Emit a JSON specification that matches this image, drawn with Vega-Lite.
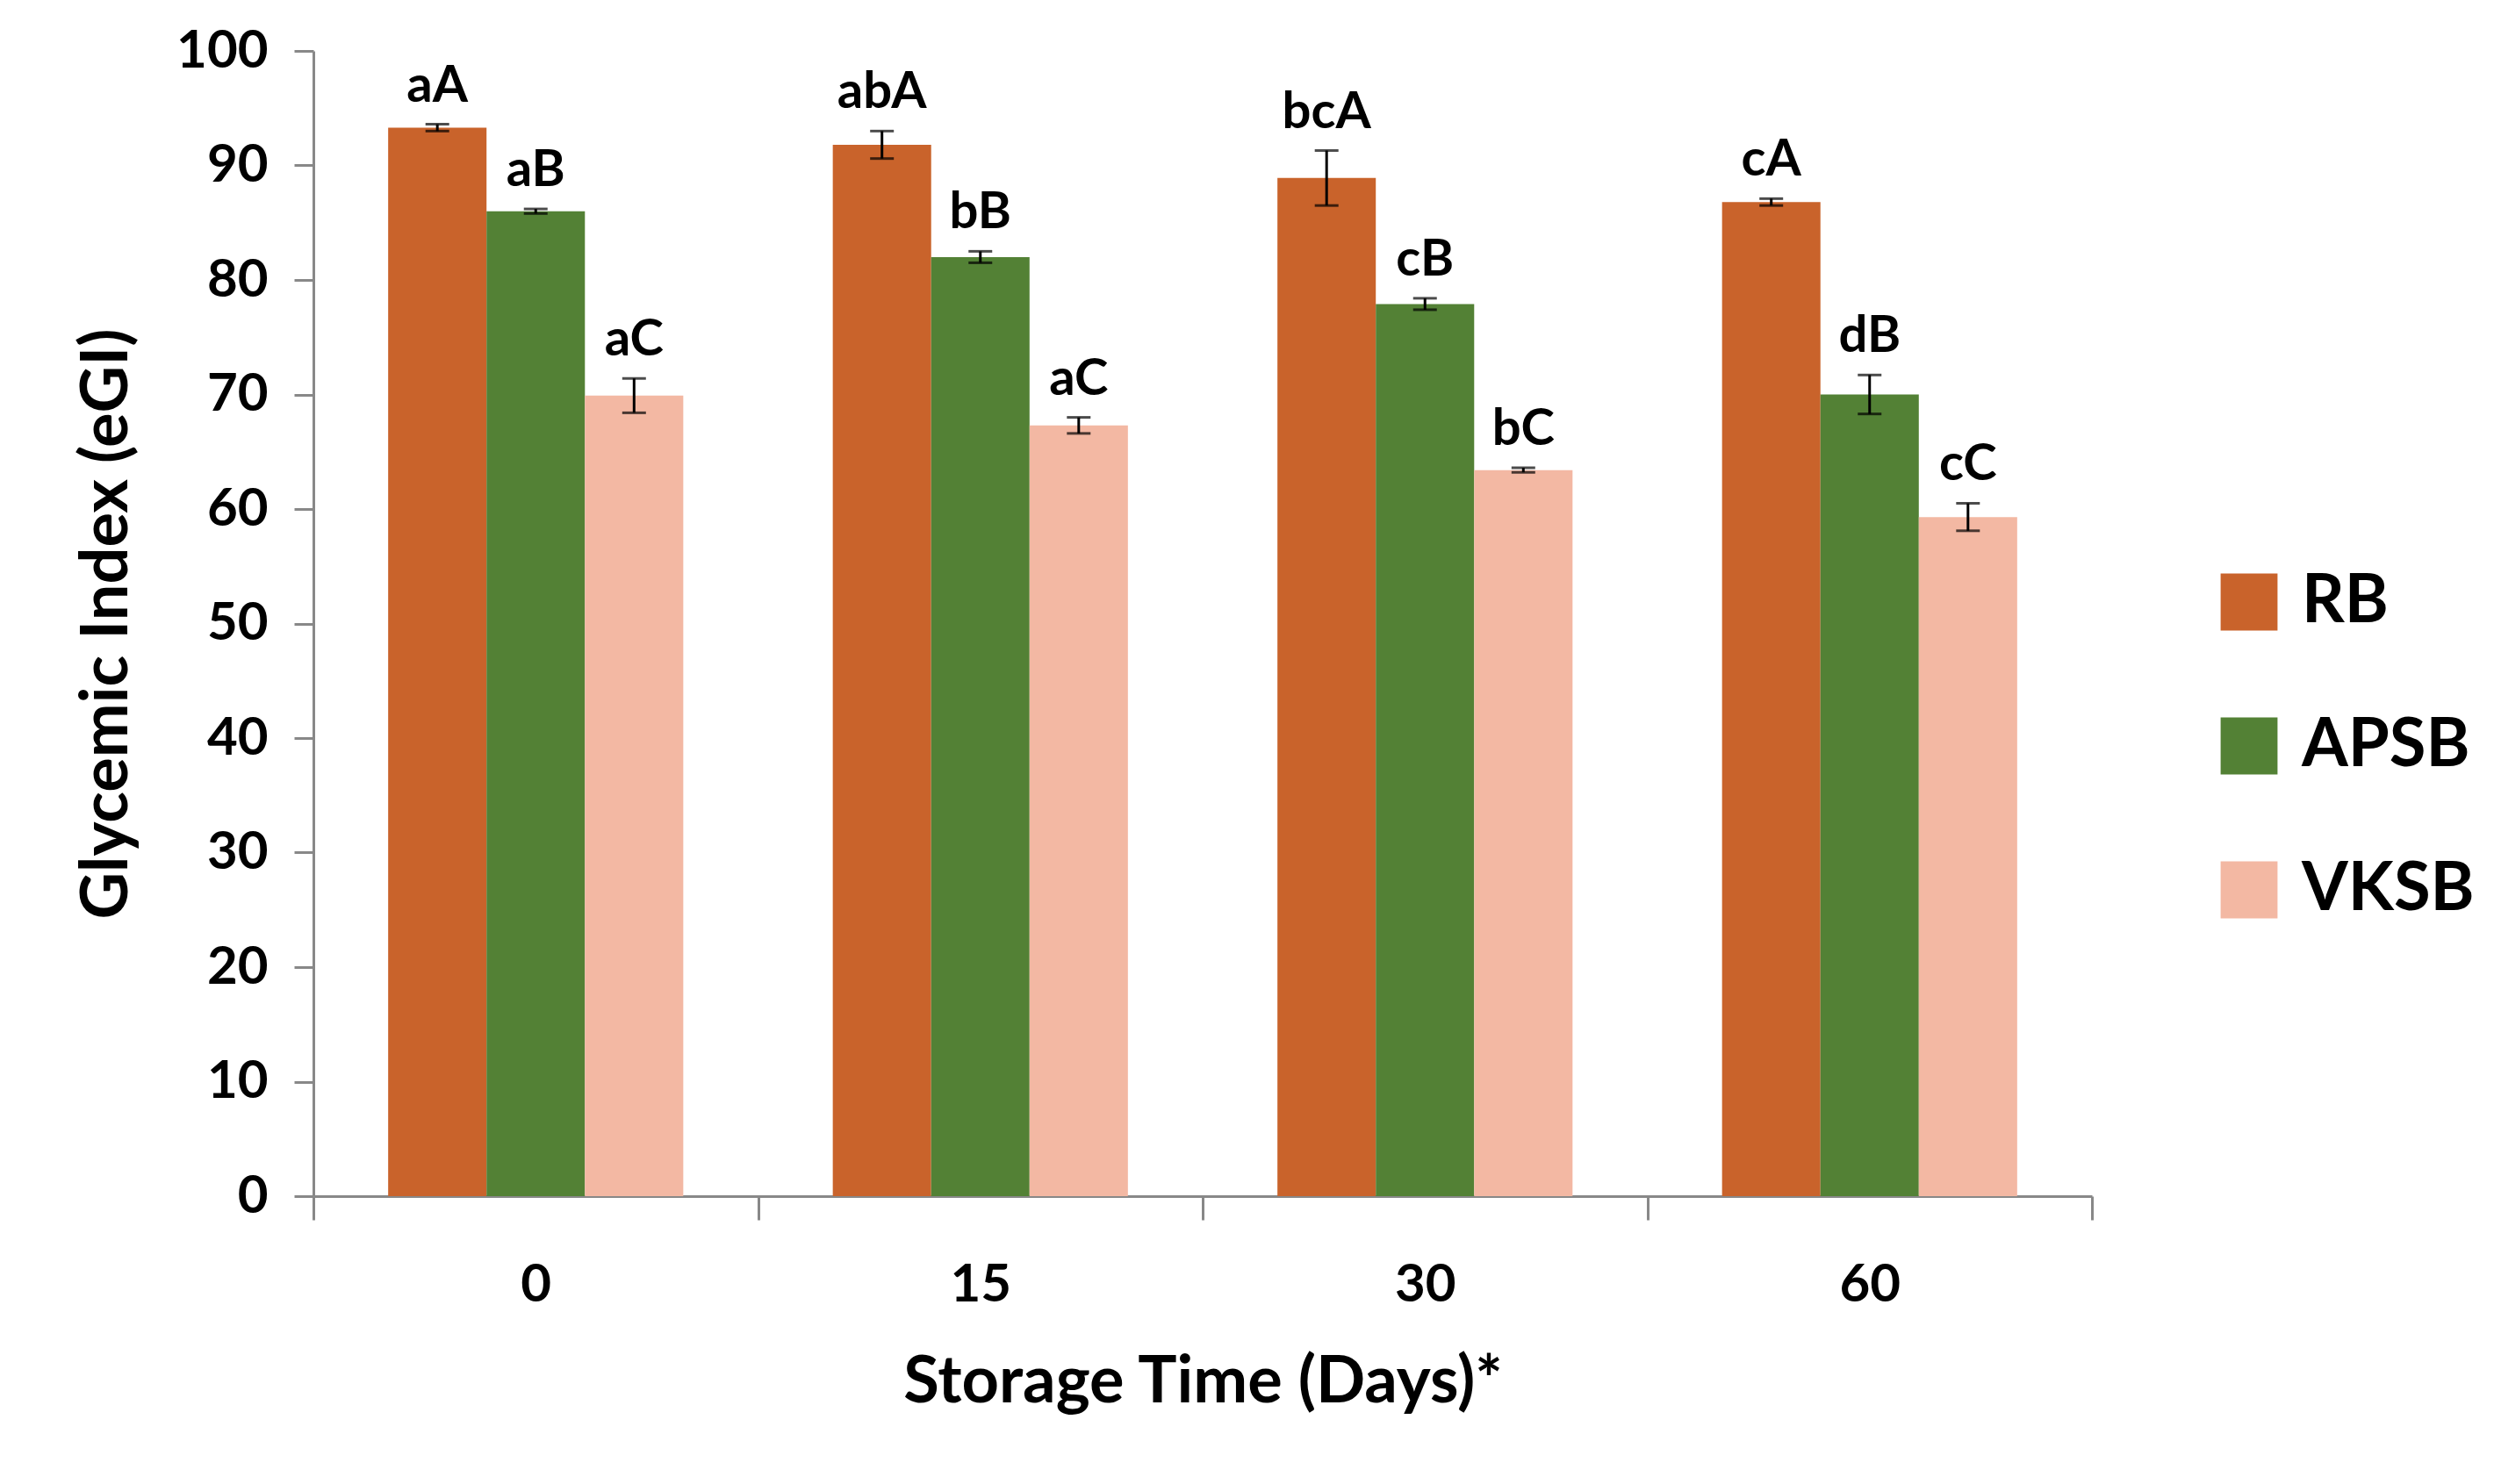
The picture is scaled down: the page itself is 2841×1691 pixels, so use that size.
{
  "$schema": "https://vega.github.io/schema/vega-lite/v6.json",
  "autosize": "none",
  "padding": {"left": 357, "top": 58, "right": 458, "bottom": 328},
  "width": 2026,
  "height": 1305,
  "background": "white",
  "data": {
    "values": [
      {"day": "0", "group": "RB", "gi": 93.3, "err": 0.3, "hi": 93.6, "sig": "aA"},
      {"day": "0", "group": "APSB", "gi": 86.0, "err": 0.2, "hi": 86.2, "sig": "aB"},
      {"day": "0", "group": "VKSB", "gi": 69.9, "err": 1.5, "hi": 71.4, "sig": "aC"},
      {"day": "15", "group": "RB", "gi": 91.8, "err": 1.2, "hi": 93.0, "sig": "abA"},
      {"day": "15", "group": "APSB", "gi": 82.0, "err": 0.5, "hi": 82.5, "sig": "bB"},
      {"day": "15", "group": "VKSB", "gi": 67.3, "err": 0.7, "hi": 68.0, "sig": "aC"},
      {"day": "30", "group": "RB", "gi": 88.9, "err": 2.4, "hi": 91.3, "sig": "bcA"},
      {"day": "30", "group": "APSB", "gi": 77.9, "err": 0.5, "hi": 78.4, "sig": "cB"},
      {"day": "30", "group": "VKSB", "gi": 63.4, "err": 0.2, "hi": 63.6, "sig": "bC"},
      {"day": "60", "group": "RB", "gi": 86.8, "err": 0.3, "hi": 87.1, "sig": "cA"},
      {"day": "60", "group": "APSB", "gi": 70.0, "err": 1.7, "hi": 71.7, "sig": "dB"},
      {"day": "60", "group": "VKSB", "gi": 59.3, "err": 1.2, "hi": 60.5, "sig": "cC"}
    ]
  },
  "encoding": {
    "x": {
      "field": "day", "type": "nominal", "sort": ["0", "15", "30", "60"],
      "scale": {"paddingInner": 0, "paddingOuter": 0},
      "axis": {
        "title": "Storage Time (Days)*", "labelAngle": 0, "tickBand": "extent",
        "labelFont": "Lato", "labelFontSize": 60, "labelFontWeight": "bold", "labelColor": "black",
        "labelPadding": 45, "tickSize": 27, "tickWidth": 3, "tickColor": "#888", "domainColor": "#888", "domainWidth": 3,
        "titleFont": "Lato", "titleFontSize": 74, "titleFontWeight": "bold", "titleColor": "black", "titlePadding": 45
      }
    },
    "xOffset": {"field": "group", "sort": ["RB", "APSB", "VKSB"], "scale": {"paddingInner": 0, "paddingOuter": 0.76}}
  },
  "layer": [
    {
      "mark": {"type": "bar"},
      "encoding": {
        "y": {
          "field": "gi", "type": "quantitative", "scale": {"domain": [0, 100]},
          "title": "Glycemic Index (eGI)",
          "axis": {
            "grid": false, "values": [0,10,20,30,40,50,60,70,80,90,100], "labelOverlap": false,
            "labelFont": "Lato", "labelFontSize": 60, "labelFontWeight": "bold", "labelColor": "black", "labelPadding": 30,
            "tickSize": 22, "tickWidth": 3, "tickColor": "#888", "domainColor": "#888", "domainWidth": 3,
            "titleFont": "Lato", "titleFontSize": 74, "titleFontWeight": "bold", "titleColor": "black", "titlePadding": 40
          }
        },
        "color": {
          "field": "group", "type": "nominal", "sort": ["RB", "APSB", "VKSB"],
          "scale": {"domain": ["RB", "APSB", "VKSB"], "range": ["#C9632B", "#538135", "#F3B8A3"]},
          "legend": {
            "title": null, "orient": "none", "legendX": 2167, "legendY": 590,
            "symbolType": "square", "symbolSize": 4200, "symbolStrokeWidth": 0,
            "labelFont": "Lato", "labelFontSize": 76, "labelFontWeight": "bold", "labelColor": "black",
            "labelOffset": 22, "rowPadding": 88, "labelLimit": 0
          }
        }
      }
    },
    {
      "mark": {"type": "errorbar", "ticks": {"size": 27, "thickness": 3, "color": "black"}, "rule": {"strokeWidth": 3, "color": "black"}},
      "encoding": {
        "y": {"field": "gi", "type": "quantitative", "title": "Glycemic Index (eGI)"},
        "yError": {"field": "err"}
      }
    },
    {
      "mark": {"type": "text", "font": "Lato", "fontSize": 58, "fontWeight": "bold", "baseline": "bottom", "dy": -14, "color": "black"},
      "encoding": {
        "y": {"field": "hi", "type": "quantitative", "title": "Glycemic Index (eGI)"},
        "text": {"field": "sig"}
      }
    }
  ],
  "config": {"view": {"stroke": null}}
}
